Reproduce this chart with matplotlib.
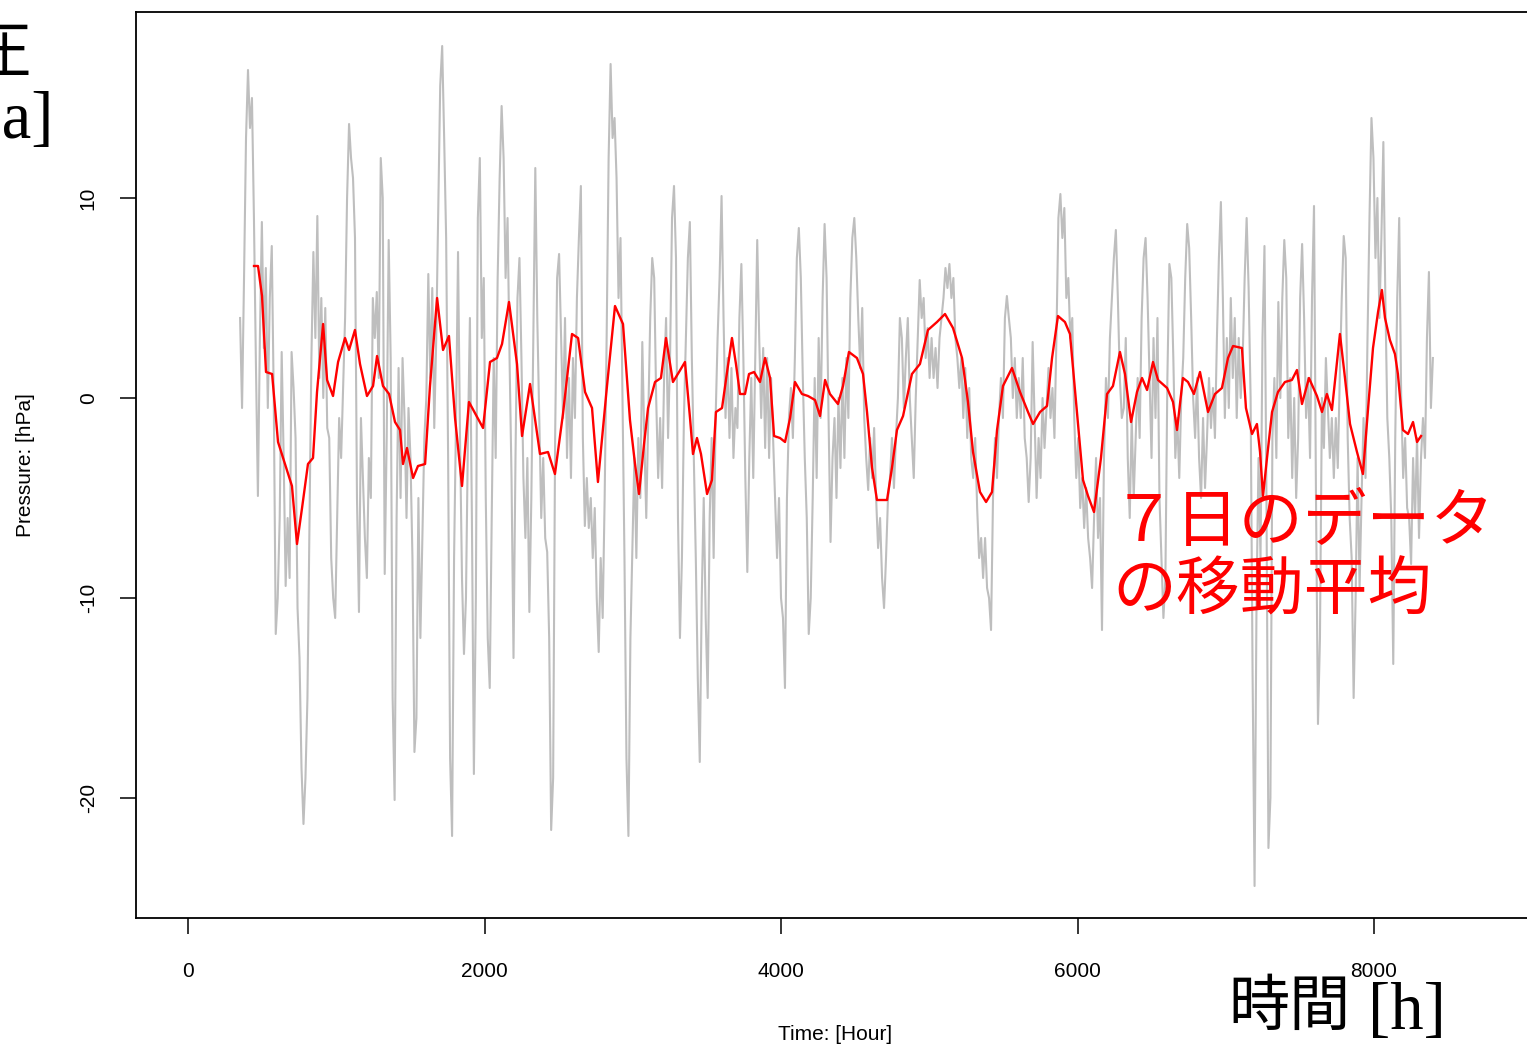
import numpy as np
import matplotlib
matplotlib.use("Agg")
import matplotlib.pyplot as plt

# hourly pressure anomaly (hPa), evenly spaced in time
GRAY_START, GRAY_END = 351, 8397
gray_vals = [
    4.0, -0.5, 6.0, 13.0, 16.4, 13.5, 15.0, 9.0, 1.7, -4.9, 3.0, 8.8, 2.5, 6.5, -0.5, 5.0, 7.6, 0.0,
    -11.8, -10.0, -6.0, 2.3, -3.0, -9.4, -6.0, -9.0, 2.3, 0.5, -2.0, -10.5, -13.0, -18.5, -21.3, -19.0,
    -15.0, -6.6, 2.0, 7.3, 3.0, 9.1, 1.0, 5.0, 0.0, 4.5, -1.5, -2.0, -8.0, -10.0, -11.0, -6.0, -1.0,
    -3.0, 0.5, 4.0, 10.0, 13.7, 12.0, 11.0, 8.0, -5.0, -10.7, -1.0, -4.0, -7.0, -9.0, -3.0, -5.0, 5.0,
    3.0, 5.3, 1.0, 12.0, 10.0, -8.8, -2.0, 7.9, 2.0, -15.0, -20.1, -6.0, 1.5, -5.0, 2.0, -1.0, -6.0,
    -0.5, -3.0, -8.0, -17.7, -16.0, -5.0, -12.0, -7.0, -2.0, 0.0, 6.2, 1.0, 5.5, -1.5, 3.0, 9.2, 15.6,
    17.6, 13.0, 8.0, -3.0, -18.0, -21.9, -8.0, -1.0, 7.3, -2.0, -9.0, -12.8, -10.0, -2.0, 4.0, -6.0,
    -18.8, -10.0, 9.0, 12.0, 3.0, 6.0, -5.0, -12.0, -14.5, -6.0, 2.0, -3.0, 6.0, 11.0, 14.6, 12.0, 6.0,
    9.0, 2.0, -4.0, -13.0, -3.0, 5.0, 7.0, 2.0, -4.0, -7.0, -3.0, -10.7, -5.0, 3.0, 11.5, 4.0, -1.0,
    -6.0, -3.0, -7.0, -7.7, -12.0, -21.6, -19.0, -2.0, 6.0, 7.2, 3.0, -1.0, 4.0, -3.0, 1.0, -4.0, 2.0,
    -1.0, 5.0, 8.0, 10.6, -2.0, -6.4, -4.0, -6.5, -5.0, -8.0, -5.5, -10.0, -12.7, -8.0, -11.0, -5.0,
    3.0, 12.0, 16.7, 13.0, 14.0, 11.0, 5.0, 8.0, 0.0, -8.0, -18.0, -21.9, -12.0, -7.5, -3.0, -8.0,
    -2.0, -5.0, 2.8, -2.0, -6.0, -1.0, 4.0, 7.0, 6.0, 0.0, -4.0, -1.0, -4.5, 1.0, 4.0, -2.0, 2.0, 9.0,
    10.6, 7.0, -6.0, -12.0, -8.0, -1.0, 3.0, 7.0, 8.8, 2.0, -3.0, -8.0, -14.0, -18.2, -10.0, -5.0,
    -11.0, -15.0, -6.0, -2.0, -8.0, -1.0, 3.0, 6.0, 10.1, 4.0, -1.0, 2.0, -2.0, 1.5, -3.0, -0.5, -1.5,
    4.0, 6.7, 2.0, -4.0, -8.7, -3.0, 1.0, -4.0, 2.0, 7.9, 3.0, -1.0, 2.5, -2.5, 2.0, -3.0, 1.0, -2.0,
    -5.0, -8.0, -5.0, -10.0, -11.0, -14.5, -5.0, -1.0, 0.5, -2.0, 2.0, 7.0, 8.5, 6.0, 1.0, -3.0, -6.0,
    -11.8, -10.0, -5.0, 1.0, -4.0, 3.0, -1.0, 5.0, 8.7, 6.0, -1.0, -7.2, -3.0, -1.0, -5.0, 0.0, -3.5,
    1.0, -3.0, 2.0, -1.0, 5.0, 8.0, 9.0, 7.0, 4.0, 1.5, 4.5, -1.0, -3.0, -4.6, -2.0, -4.0, -1.5, -5.0,
    -7.5, -6.0, -9.0, -10.5, -8.0, -5.0, -4.0, -2.0, -4.5, -2.0, 0.0, 4.0, 3.0, -0.5, 2.0, 4.0, 0.0,
    -2.0, -4.0, 0.0, 3.0, 5.9, 4.0, 5.0, 2.0, 3.5, 1.0, 3.0, 1.0, 2.5, 0.5, 3.0, 4.0, 5.0, 6.5, 5.5,
    6.7, 5.0, 6.0, 3.0, 2.0, 0.5, 2.0, -1.0, 1.5, -2.0, 0.5, -3.0, -4.0, -2.0, -5.5, -8.0, -7.0, -9.0,
    -7.0, -9.5, -10.0, -11.6, -5.0, -2.0, -4.0, -1.0, 1.0, -1.0, 4.0, 5.1, 4.0, 3.0, 0.0, 2.0, -1.0,
    1.0, -1.0, 2.0, -2.0, -3.0, -5.2, -3.0, 2.8, -1.0, -5.0, -2.0, -4.0, 0.0, -2.5, -0.5, 1.5, -1.0,
    0.5, -2.0, 3.0, 9.0, 10.2, 8.0, 9.5, 5.0, 6.0, 3.0, 4.0, -1.0, -4.0, -2.0, -5.5, -4.0, -6.5, -4.5,
    -7.0, -8.0, -9.5, -6.0, -3.0, -7.0, -5.0, -11.6, -3.0, 1.0, -1.0, 3.0, 5.0, 7.0, 8.4, 5.0, 1.0,
    -1.0, -0.5, 3.0, -3.0, -6.0, -1.0, -5.0, -2.0, 1.0, -2.0, 4.0, 7.0, 8.0, 5.0, 1.0, -3.0, 3.0, -1.0,
    4.0, -5.0, -8.0, -11.0, -9.0, 1.0, 6.7, 6.0, 2.0, -3.0, -1.0, -4.0, 0.0, 2.0, 6.0, 8.7, 7.5, 4.0,
    0.0, -2.0, 1.0, -3.0, -5.0, -1.0, -4.5, -2.0, 1.0, -1.5, 0.5, -2.0, 3.0, 7.0, 9.8, 5.0, -1.0, 3.0,
    -0.5, 5.0, 1.0, 4.0, -1.0, 3.0, 0.0, 2.0, 6.0, 9.0, 5.5, 0.0, -13.8, -24.4, -10.0, -3.0, -8.0, 3.0,
    7.6, -5.0, -22.5, -20.0, -2.0, 1.0, -3.0, 4.8, 0.0, 5.0, 7.9, 6.0, -2.0, 1.0, -4.0, 0.0, -5.0,
    -2.0, 5.0, 7.7, 4.0, -1.0, 1.0, -3.0, 5.0, 9.6, -5.0, -16.3, -12.0, 0.0, -2.5, 2.0, -0.5, -3.0,
    -1.0, -4.0, -1.0, -3.5, 1.0, 5.0, 8.1, 7.0, -2.0, -6.0, -8.0, -15.0, -10.0, -3.0, -9.5, -5.0, -1.0,
    -4.0, 3.0, 9.0, 14.0, 12.0, 7.0, 10.0, 4.0, 8.0, 12.8, 5.0, -1.0, -3.0, -6.0, -13.3, -2.0, 5.0,
    9.0, 0.0, -4.0, -2.0, -5.5, -6.0, -8.3, -3.0, -6.0, -2.0, -7.0, -3.0, -1.0, -3.0, 3.0, 6.3, -0.5,
    2.0,
]

# 7-day moving average (hour, hPa)
ma_hours = [
    445, 472, 499, 526, 567, 607, 654, 701, 735, 769, 809, 843, 870, 911, 938, 978, 1012, 1059, 1086,
    1126, 1160, 1207, 1248, 1275, 1315, 1356, 1396, 1430, 1450, 1477, 1518, 1551, 1599, 1632, 1680,
    1720, 1760, 1801, 1848, 1895, 1990, 2037, 2084, 2118, 2165, 2219, 2253, 2307, 2374, 2428, 2475,
    2529, 2590, 2631, 2678, 2725, 2765, 2826, 2880, 2934, 2981, 3015, 3042, 3076, 3103, 3150, 3190,
    3224, 3271, 3312, 3352, 3386, 3406, 3433, 3460, 3501, 3534, 3561, 3602, 3636, 3669, 3696, 3723,
    3757, 3784, 3818, 3858, 3892, 3926, 3953, 3993, 4027, 4061, 4094, 4141, 4182, 4229, 4263, 4297,
    4330, 4384, 4418, 4458, 4512, 4553, 4580, 4614, 4647, 4715, 4748, 4782, 4823, 4883, 4937, 4991,
    5052, 5106, 5160, 5221, 5261, 5295, 5342, 5383, 5423, 5457, 5497, 5558, 5612, 5666, 5700, 5747,
    5794, 5828, 5868, 5915, 5949, 5996, 6037, 6071, 6111, 6158, 6199, 6239, 6286, 6320, 6361, 6401,
    6435, 6469, 6509, 6543, 6604, 6644, 6671, 6711, 6745, 6785, 6826, 6880, 6927, 6974, 7015, 7049,
    7109, 7136, 7177, 7210, 7231, 7251, 7278, 7312, 7352, 7399, 7446, 7480, 7514, 7561, 7615, 7649,
    7682, 7716, 7770, 7804, 7838, 7885, 7925, 7959, 7993, 8027, 8053, 8074, 8107, 8141, 8161, 8195,
    8229, 8263, 8290, 8317,
]
ma_vals = [
    6.6, 6.6, 5.1, 1.3, 1.2, -2.2, -3.3, -4.4, -7.3, -5.5, -3.3, -3.0, 0.3, 3.7, 0.9, 0.1, 1.8, 3.0,
    2.4, 3.4, 1.7, 0.1, 0.6, 2.1, 0.6, 0.2, -1.2, -1.6, -3.3, -2.5, -4.0, -3.4, -3.3, 0.6, 5.0, 2.4,
    3.1, -1.0, -4.4, -0.2, -1.5, 1.8, 2.0, 2.7, 4.8, 1.7, -1.9, 0.7, -2.8, -2.7, -3.8, -0.8, 3.2, 3.0,
    0.3, -0.5, -4.2, 0.6, 4.6, 3.7, -1.1, -3.3, -4.8, -2.3, -0.5, 0.8, 1.0, 3.0, 0.8, 1.3, 1.8, -1.0,
    -2.8, -2.0, -2.8, -4.8, -4.1, -0.7, -0.5, 1.3, 3.0, 1.7, 0.2, 0.2, 1.2, 1.3, 0.8, 2.0, 1.0, -1.9,
    -2.0, -2.2, -1.0, 0.8, 0.2, 0.1, -0.1, -0.9, 0.9, 0.2, -0.3, 0.6, 2.3, 2.0, 1.2, -0.7, -3.5, -5.1,
    -5.1, -3.5, -1.6, -0.9, 1.2, 1.7, 3.4, 3.8, 4.2, 3.5, 2.0, -0.2, -2.7, -4.7, -5.2, -4.7, -1.6, 0.6,
    1.5, 0.3, -0.7, -1.3, -0.7, -0.4, 2.0, 4.1, 3.8, 3.2, -0.7, -4.1, -4.9, -5.7, -3.0, 0.2, 0.6, 2.3,
    1.2, -1.2, 0.3, 1.0, 0.4, 1.8, 0.9, 0.5, -0.2, -1.6, 1.0, 0.8, 0.2, 1.3, -0.7, 0.2, 0.5, 2.0, 2.6,
    2.5, -0.5, -1.8, -1.3, -2.7, -4.9, -3.0, -0.7, 0.3, 0.8, 0.9, 1.4, -0.3, 1.0, 0.1, -0.7, 0.2,
    -0.6, 3.2, 1.0, -1.3, -2.7, -3.8, -0.6, 2.5, 4.3, 5.4, 4.0, 2.9, 2.2, 1.2, -1.6, -1.8, -1.2, -2.2,
    -1.9,
]

x_ticks = [0, 2000, 4000, 6000, 8000]
y_ticks = [-20, -10, 0, 10]

W, H = 1527, 1048
fig = plt.figure(figsize=(W / 100, H / 100), dpi=100)
# plot box: left 136px, top 12px, bottom 918px, right edge runs past the image
ax = fig.add_axes([136 / W, 1 - 918 / H, (1534 - 136) / W, (918 - 12) / H])

gray_hours = np.linspace(GRAY_START, GRAY_END, len(gray_vals))
ax.plot(gray_hours, gray_vals, color="#bebebe", lw=1.5, zorder=1)
ax.plot(ma_hours, ma_vals, color="#ff0000", lw=1.7, zorder=2)

ax.set_xlim(-351, 9079)
ax.set_ylim(-26, 19.3)
ax.set_xticks(x_ticks)
ax.set_yticks(y_ticks)

tick_font = {"family": "Liberation Sans", "size": 15}
ax.set_xticklabels([str(t) for t in x_ticks], fontdict=tick_font)
ax.set_yticklabels([str(t) for t in y_ticks], fontdict=tick_font, rotation=90, va="center")
ax.tick_params(axis="both", length=11.5, width=1.1, color="black")
ax.tick_params(axis="x", pad=20)
ax.tick_params(axis="y", pad=16)
for s in ax.spines.values():
    s.set_linewidth(1.3)

ax.set_xlabel("Time: [Hour]", fontdict=tick_font)
ax.xaxis.set_label_coords(0.5, -(1035 - 918) / (918 - 12))
ax.xaxis.label.set_va("center")
ax.set_ylabel("Pressure: [hPa]", fontdict=tick_font)
ax.yaxis.set_label_coords(-(136 - 25) / (1534 - 136), 0.5)
ax.yaxis.label.set_va("center")

jp = ["Noto Sans CJK JP", "DejaVu Sans"]
serif = "Liberation Serif"
fig.text(1112 / W, 1 - 557 / H, "７日のデータ\nの移動平均", color="#ff0000", fontsize=46,
         family=jp, ha="left", va="center", linespacing=1.05)
# bottom-right axis note
fig.text(1228 / W, 1 - 1008 / H, "時間", color="black", fontsize=44, family=jp,
         ha="left", va="center")
fig.text(1368 / W, 1 - 1012 / H, "[h]", color="black", fontsize=48, family=serif,
         ha="left", va="center")
# top-left axis note, mostly outside the picture as in the original
fig.text(32 / W, 1 - 55 / H, "気圧", color="black", fontsize=44, family=jp,
         ha="right", va="center")
fig.text(53 / W, 1 - 122 / H, "[hPa]", color="black", fontsize=48, family=serif,
         ha="right", va="center")

fig.savefig("out.png", dpi=100)
